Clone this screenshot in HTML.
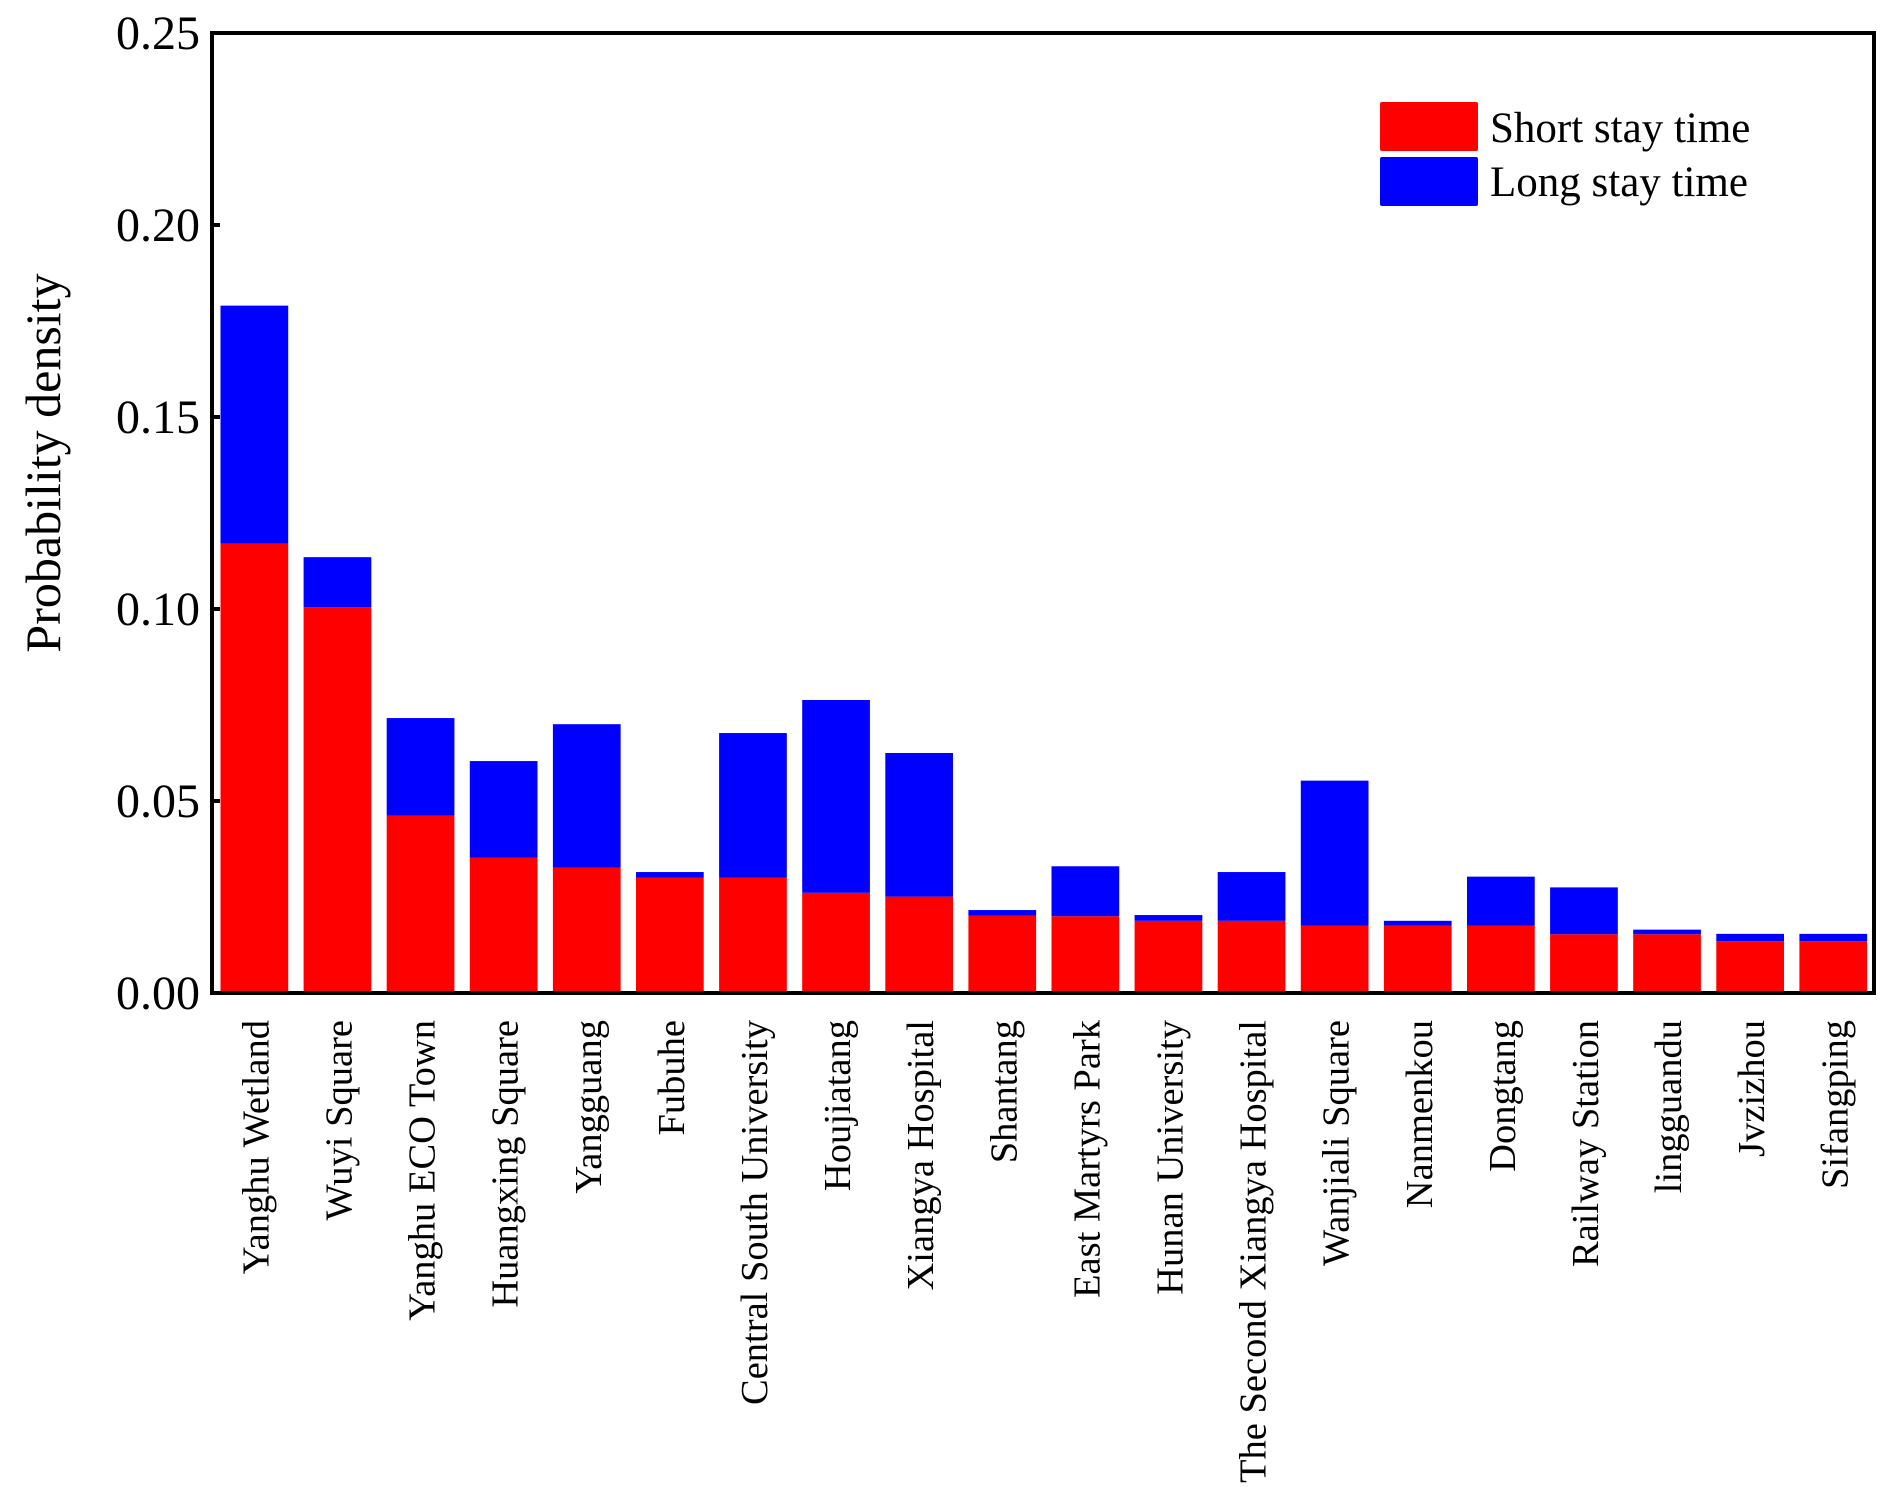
<!DOCTYPE html>
<html><head><meta charset="utf-8"><style>
html,body{margin:0;padding:0;background:#fff;}
svg{display:block;font-family:"Liberation Serif",serif;}
</style></head><body>
<svg id="chart" width="1904" height="1506" viewBox="0 0 1904 1506" xmlns="http://www.w3.org/2000/svg">
<g id="bars"></g>
<g id="yaxis"></g>
<g id="xaxis"></g>
<rect x="212" y="33" width="1662" height="960" fill="none" stroke="#000" stroke-width="4"/>
<text transform="translate(60,463) rotate(-90)" text-anchor="middle" font-size="50">Probability density</text>
<g>
<rect x="1380" y="102" width="98" height="49" rx="2" fill="#ff0000"/>
<text x="1490" y="142" font-size="43">Short stay time</text>
<rect x="1380" y="157" width="98" height="49" rx="2" fill="#0000ff"/>
<text x="1490" y="196" font-size="43">Long stay time</text>
</g>
<script>
const categories = ["Yanghu Wetland","Wuyi Square","Yanghu ECO Town","Huangxing Square","Yangguang","Fubuhe","Central South University","Houjiatang","Xiangya Hospital","Shantang","East Martyrs Park","Hunan University","The Second Xiangya Hospital","Wanjiali Square","Nanmenkou","Dongtang","Railway Station","lingguandu","Jvzizhou","Sifangping"];
const shortStay = [0.117,0.1005,0.0462,0.0352,0.0326,0.0300,0.0300,0.0261,0.0251,0.0201,0.0200,0.0188,0.0188,0.0175,0.0175,0.0175,0.0153,0.0153,0.0135,0.0135];
const totalStay = [0.179,0.1135,0.0716,0.0604,0.0700,0.0315,0.0677,0.0763,0.0625,0.0216,0.0330,0.0203,0.0315,0.0553,0.0188,0.0303,0.0275,0.0165,0.0154,0.0154];
const yTicks = [0,0.05,0.10,0.15,0.20,0.25];
const yTickLabels = ["0.00","0.05","0.10","0.15","0.20","0.25"];

const NS="http://www.w3.org/2000/svg";
const X0=212,X1=1874,Y0=993,Y1=33,YMAX=0.25;
const band=(X1-X0)/categories.length;
function yScale(v){return Y0-(v/YMAX)*(Y0-Y1);}
function xBand(i){return X0+i*band;}
function mk(tag,attrs,parent){const e=document.createElementNS(NS,tag);for(const k in attrs)e.setAttribute(k,attrs[k]);parent.appendChild(e);return e;}
const gb=document.getElementById('bars'),gy=document.getElementById('yaxis'),gx=document.getElementById('xaxis');
categories.forEach((c,i)=>{
  const bx=xBand(i)+8.5, bw=band*0.815;
  const r=mk('rect',{x:bx,y:yScale(shortStay[i]),width:bw,height:Y0-yScale(shortStay[i]),fill:'#ff0000'},gb);
  
  
  const b=mk('rect',{x:bx,y:yScale(totalStay[i]),width:bw,height:yScale(shortStay[i])-yScale(totalStay[i]),fill:'#0000ff'},gb);
  
  
  const cx=bx+bw/2+14;
  const t=mk('text',{transform:'translate('+cx+',1020) rotate(-90)','text-anchor':'end','font-size':'38.5'},gx);
  
  
  t.textContent=c;
});
yTicks.forEach((v,i)=>{
  const y=yScale(v);
  const l=mk('line',{x1:X0,x2:X0+8,y1:y,y2:y,stroke:'#000','stroke-width':4},gy);
  
  
  const t=mk('text',{x:200,y:y+16,'text-anchor':'end','font-size':'48'},gy);
  
  
  t.textContent=yTickLabels[i];
});
</script>
</svg>
</body></html>
